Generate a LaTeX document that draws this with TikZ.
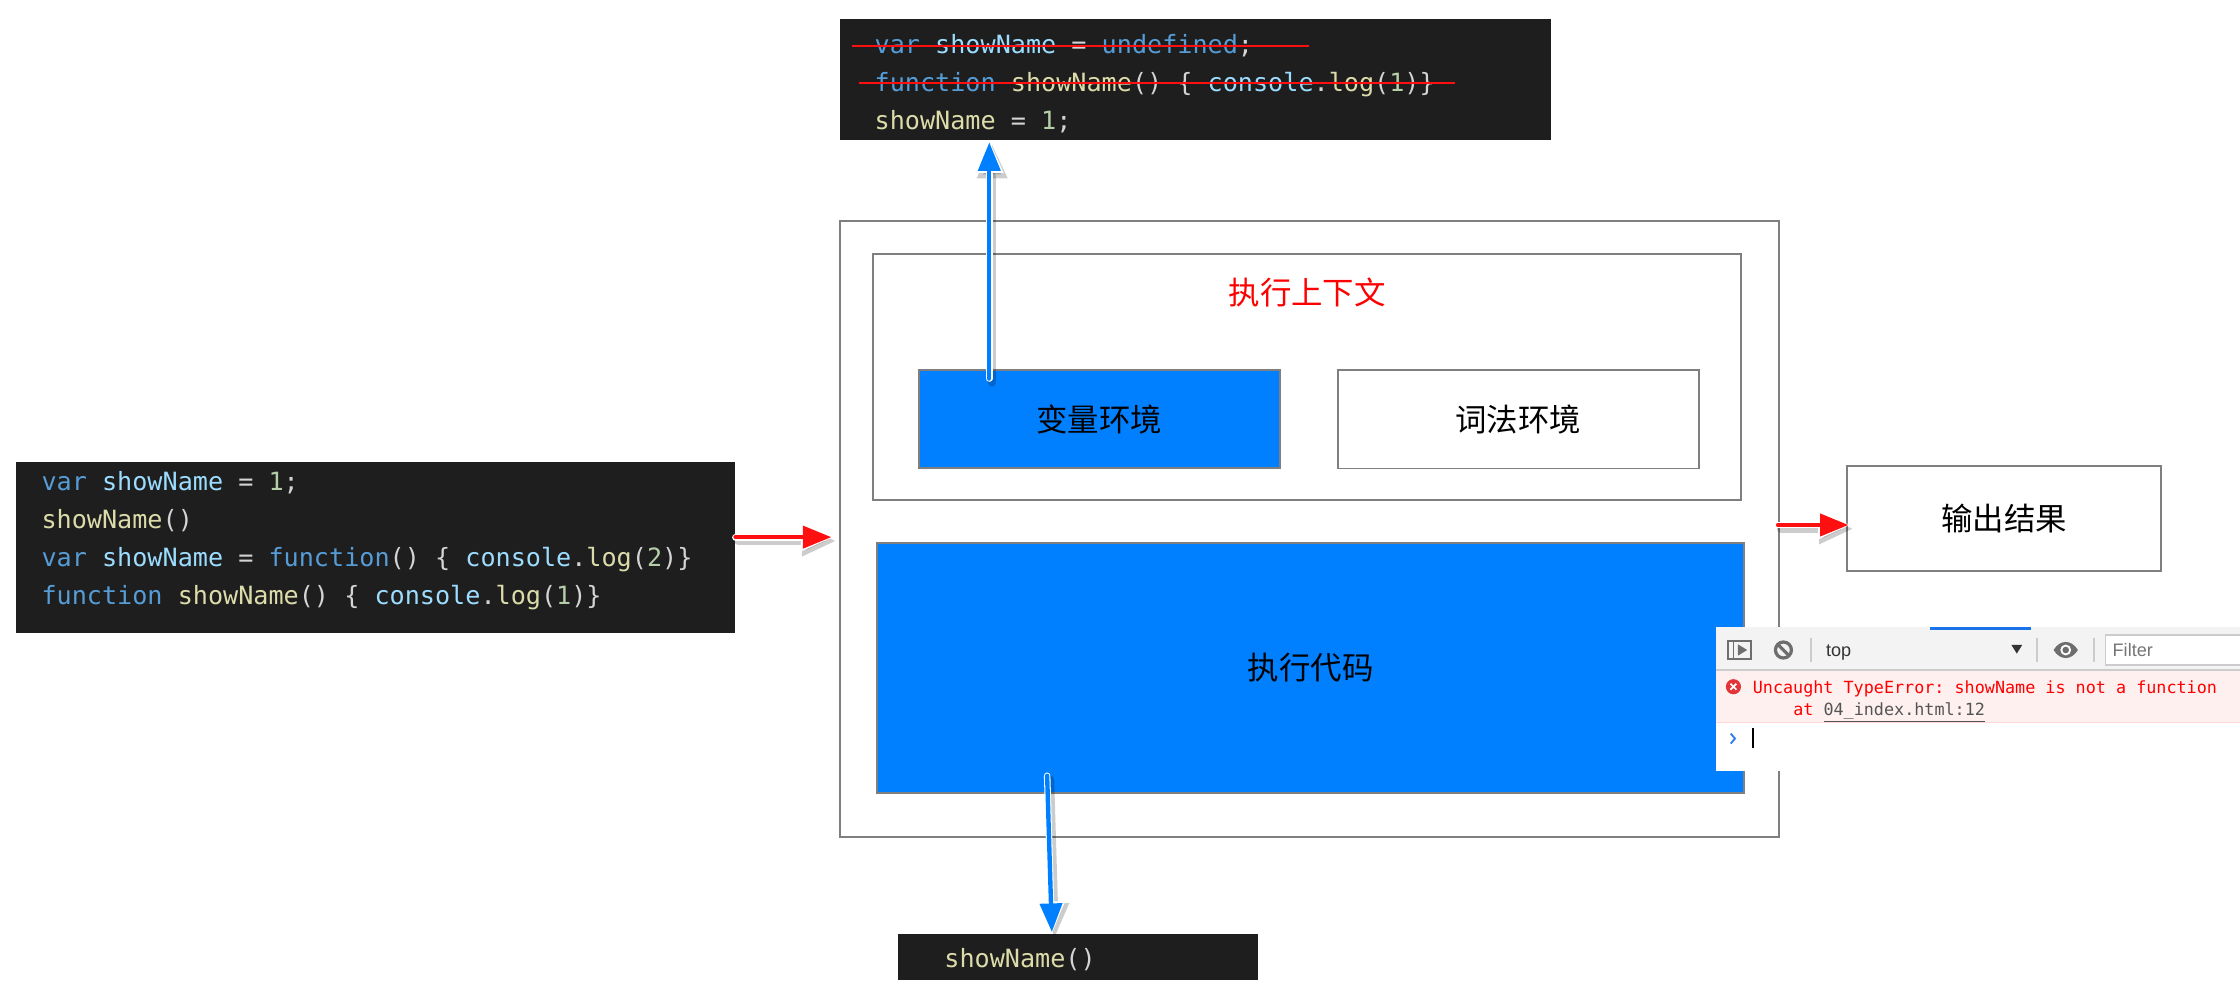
\documentclass[tikz,border=0pt]{standalone}
\usepackage{fontspec}
\usepackage{tikz}
\usepackage{xcolor}
\usetikzlibrary{positioning, arrows.meta, fit, calc}
\setmonofont{DejaVu Sans Mono}
\setsansfont{Liberation Sans}
\newfontfamily\cjk{Noto Sans CJK SC}

\definecolor{codebg}{HTML}{1E1E1E}
\definecolor{codetext}{HTML}{D4D4D4}
\definecolor{kwblue}{HTML}{569CD6}
\definecolor{varblue}{HTML}{9CDCFE}
\definecolor{fnyellow}{HTML}{DCDCAA}
\definecolor{numgreen}{HTML}{B5CEA8}
\definecolor{boxgray}{HTML}{7F7F7F}
\definecolor{envblue}{HTML}{0080FF}
\definecolor{arrowred}{HTML}{FF1010}
\definecolor{barbg}{HTML}{F3F3F3}
\definecolor{barline}{HTML}{CCCCCC}
\definecolor{tabblue}{HTML}{1A73E8}
\definecolor{icongray}{HTML}{6E6E6E}
\definecolor{textdark}{HTML}{333333}
\definecolor{placeholder}{HTML}{757575}
\definecolor{errbg}{HTML}{FFF0F0}
\definecolor{errline}{HTML}{FFD6D6}
\definecolor{errred}{HTML}{FF0000}
\definecolor{erricon}{HTML}{E2353A}
\definecolor{linkgray}{HTML}{545454}
\definecolor{promptblue}{HTML}{367CF1}

\newcommand{\kw}[1]{\textcolor{kwblue}{#1}}
\newcommand{\vr}[1]{\textcolor{varblue}{#1}}
\newcommand{\fn}[1]{\textcolor{fnyellow}{#1}}
\newcommand{\nm}[1]{\textcolor{numgreen}{#1}}

\tikzset{
  box/.style={draw=boxgray, line width=1pt, inner sep=0pt, font=\cjk\fontsize{16.5}{18}\selectfont},
  blue box/.style={box, fill=envblue},
  code/.style={fill=codebg, inner sep=0pt},
  codeline/.style={anchor=base west, inner sep=0pt, text=codetext, font=\ttfamily\fontsize{13.2}{15}\selectfont},
  errtext/.style={anchor=base west, inner sep=0pt, text=errred, font=\ttfamily\fontsize{8.8}{10}\selectfont},
  bartext/.style={anchor=base west, inner sep=0pt, font=\sffamily\fontsize{9.5}{11}\selectfont},
  strike/.style={arrowred, line width=1.1pt},
  fat shadow/.style={draw=black, opacity=.2, line width=4.4pt, line cap=round,
    -{Triangle[length=18pt,width=15pt]}, transform canvas={shift={(1.5pt,-2pt)}}},
  fat rim/.style={draw=white, line width=#1, line cap=round, -{Triangle[length=17pt,width=14pt]}},
  fat core/.style={draw=#1, line width=2.3pt, line cap=round, -{Triangle[length=15pt,width=11.5pt]}, shorten >=1pt},
}

\newcommand{\fatarrow}[4]{%
  \draw[fat shadow] #3 -- #4;
  \draw[fat rim=#2] #3 -- #4;
  \draw[fat core=#1] #3 -- #4;}

\begin{document}
\begin{tikzpicture}[x=0.75pt, y=-0.75pt]
\useasboundingbox (0,0) rectangle (1568,698);

% source code
\node[code, fit={(11.5,323.6) (514.6,443.2)}] (leftcode) {};
\node[codeline] (l1) at (28.8,343.6) {\kw{var} \vr{showName} = \nm{1};};
\node[codeline] (l2) at (28.8,370.2) {\fn{showName}()};
\node[codeline] (l3) at (28.8,396.8) {\kw{var} \vr{showName} = \kw{function}() \{ \vr{console}.\fn{log}(\nm{2})\}};
\node[codeline] (l4) at (28.8,423.4) {\kw{function} \fn{showName}() \{ \vr{console}.\fn{log}(\nm{1})\}};

% after hoisting
\node[code, fit={(588,13.3) (1086,98)}] (topcode) {};
\node[codeline] (t1) at (612,37.8) {\kw{var} \vr{showName} = \kw{undefined};};
\node[codeline] (t2) at (612,64.4) {\kw{function} \fn{showName}() \{ \vr{console}.\fn{log}(\nm{1})\}};
\node[codeline] (t3) at (612,91) {\fn{showName} = \nm{1};};
\draw[strike] ($(t1.base west)+(-15.5,-5.5)$) -- ($(t1.base east)+(39,-5.5)$);
\draw[strike] ($(t2.base west)+(-11,-6)$) -- ($(t2.base east)+(14,-6)$);

% the call
\node[code, fit={(628.6,654) (880.6,686)}] (botcode) {};
\node[codeline] (b1) at (660.8,677) {\fn{showName}()};

% engine
\node[box, fit={(588,155) (1245,586)}] (outer) {};
\node[box, fit={(611,178) (1219,350)}] (context) {};
\node[text=errred, font=\cjk\fontsize{16.5}{18}\selectfont] (ctxlabel) at (915,205) {执行上下文};
\node[blue box, minimum width=189.75pt, minimum height=51.5pt] (varenv) at (769.5,293.4) {变量环境};
\node[box, minimum width=189.5pt, minimum height=51.8pt, right=29.25pt of varenv] (lexenv) {词法环境};
\node[blue box, minimum width=455.25pt, minimum height=131.25pt] (exec) at (917.5,467.5) {执行代码};
\node[box, minimum width=165pt, minimum height=55.5pt] (output) at (1403,363) {输出结果};

% arrows
\coordinate (vstart) at (692.5,265);
\coordinate (cstart) at (733,543);
\fatarrow{envblue}{3.4pt}{(vstart)}{(vstart |- topcode.south)}
\fatarrow{envblue}{3.4pt}{(cstart)}{($(botcode.north west)+(108,0)$)}
\fatarrow{arrowred}{3.6pt}{($(leftcode.east)+(0,-7.4)$)}{($(leftcode.east -| outer.west)+(-4,-7.4)$)}
\fatarrow{arrowred}{3.6pt}{($(outer.east)+(-1,-3)$)}{($(outer.east -| output.west)+(3,-3)$)}

% console
\fill[white] (1201,439) rectangle (1568,540);
\fill[barbg] (1201,439) rectangle (1568,469);
\draw[barline, line width=.6pt] (1201,469) -- (1568,469);
\draw[tabblue, line width=1.4pt] (1351,439.8) -- (1422,439.8);
\fill[errbg] (1201,469.5) rectangle (1568,506);
\draw[errline, line width=.6pt] (1201,506) -- (1568,506);
\draw[icongray, line width=.9pt] (1209.5,448.5) rectangle (1225.5,461.5);
\draw[icongray, line width=.9pt] (1213.5,448.5) -- (1213.5,461.5);
\fill[icongray] (1216.5,451) -- (1223,455) -- (1216.5,459) -- cycle;
\draw[icongray, line width=1.7pt] (1248.4,455) circle [radius=5.6];
\draw[icongray, line width=1.7pt] (1244.4,451) -- (1252.4,459);
\foreach \x in {1267.7,1426,1465.9}
  \draw[barline, line width=.7pt] (\x,446.6) -- (\x,463.4);
\node[bartext, text=textdark] (ctxsel) at (1278,459.5) {top};
\fill[textdark] (1408,451.5) -- (1415.5,451.5) -- (1411.75,457.5) -- cycle;
\fill[icongray] (1437.5,455) .. controls (1442,447.5) and (1450,447.5) .. (1454.5,455)
  .. controls (1450,462.5) and (1442,462.5) .. (1437.5,455) -- cycle;
\fill[white] (1446,455) circle [radius=3.8];
\fill[icongray] (1446,455) circle [radius=2.3];
\draw[barline, fill=white, line width=.6pt] (1568,444.5) -| (1473.7,465.5) -- (1568,465.5);
\node[bartext, text=placeholder] (filter) at (1478.6,459.6) {Filter};
\fill[erricon] (1213.4,480.7) circle [radius=5.3];
\draw[white, line width=.9pt] (1211.3,478.6) -- (1215.5,482.8) (1211.3,482.8) -- (1215.5,478.6);
\node[errtext] (err1) at (1226.7,485.8) {Uncaught TypeError: showName is not a function};
\node[errtext] (err2) at (1255,500.6) {at \textcolor{linkgray}{\underline{04\_index.html:12}}};
\draw[promptblue, line width=1pt] (1211.5,513.5) -- (1214.5,517) -- (1211.5,520.5);
\draw[black, line width=.7pt] (1227,509.6) -- (1227,523.6);
\end{tikzpicture}
\end{document}
